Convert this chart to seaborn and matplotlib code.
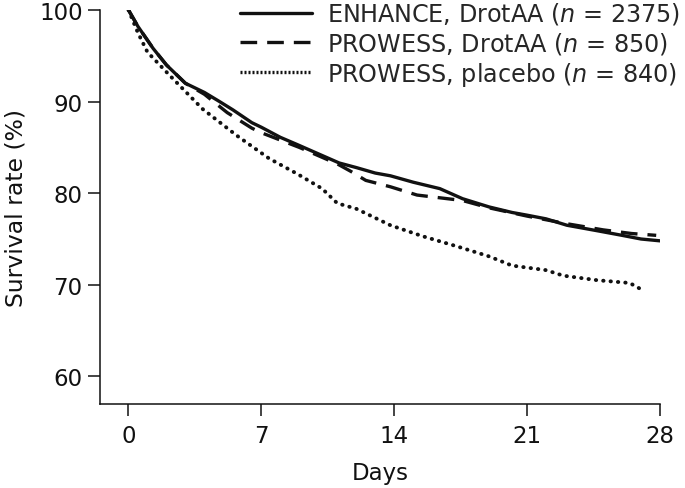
import numpy as np
import pandas as pd
import matplotlib
matplotlib.use('Agg')
import matplotlib.pyplot as plt
import seaborn as sns

###############################################################################
# Data
###############################################################################
ENH_DAYS = [0, 0.5, 1.3, 2, 3, 4, 4.8, 5.5, 6.5, 7, 8, 8.9, 10, 11.1, 12, 13,
            13.8, 15, 16.4, 17.6, 19, 20.2, 21, 22, 23.1, 24.7, 26, 27, 28]
ENH_SURV = [100, 98.2, 95.8, 94.0, 92.0, 91.0, 90.0, 89.1, 87.7, 87.2, 86.1,
            85.3, 84.3, 83.3, 82.8, 82.2, 81.9, 81.2, 80.5, 79.4, 78.5, 77.9,
            77.6, 77.2, 76.5, 75.9, 75.4, 75.0, 74.8]
PRO_DAYS = [0, 0.5, 1.3, 2, 3, 4, 5.2, 6.5, 7, 8, 9, 10, 11, 11.7, 12.5, 13.8,
            15.2, 16.8, 17.6, 19, 21, 23, 25, 26.5, 27.8]
PRO_SURV = [100, 98.2, 95.8, 94.0, 92.0, 90.8, 88.8, 87.1, 86.6, 85.8, 85.0,
            84.1, 83.2, 82.4, 81.4, 80.7, 79.8, 79.4, 79.2, 78.4, 77.5, 76.7,
            76.0, 75.6, 75.4]
PLA_DAYS = [0, 0.5, 1.0, 2.2, 3.9, 5.7, 7.4, 8.9, 10.2, 11.0, 12.0, 13.8, 15.5,
            17.3, 19.0, 20.2, 22.0, 22.9, 24.7, 26.4, 27.1]
PLA_SURV = [100, 97.5, 95.4, 92.8, 89.2, 86.3, 83.8, 82.1, 80.5, 78.9, 78.3,
            76.5, 75.3, 74.2, 73.1, 72.1, 71.6, 71.0, 70.5, 70.2, 69.4]
LABELS = ['ENHANCE, DrotAA ($n$ = 2375)',
          'PROWESS, DrotAA ($n$ = 850)',
          'PROWESS, placebo ($n$ = 840)']
X_TICKS = [0, 7, 14, 21, 28]
Y_TICKS = [60, 70, 80, 90, 100]

dta = pd.concat([
    pd.DataFrame({'Days': ENH_DAYS, 'Survival': ENH_SURV, 'Group': LABELS[0]}),
    pd.DataFrame({'Days': PRO_DAYS, 'Survival': PRO_SURV, 'Group': LABELS[1]}),
    pd.DataFrame({'Days': PLA_DAYS, 'Survival': PLA_SURV, 'Group': LABELS[2]}),
], ignore_index=True)

###############################################################################
# Style
###############################################################################
sns.set_style('ticks')
plt.rcParams['font.family'] = ['DejaVu Sans']
plt.rcParams['mathtext.fontset'] = 'custom'
plt.rcParams['mathtext.it'] = 'DejaVu Sans:italic'
plt.rcParams['mathtext.rm'] = 'DejaVu Sans'
(FS, FS_LEG) = (16.5, 17.2)
INK = '#111111'

###############################################################################
# Plot
###############################################################################
fig = plt.figure(figsize=(6.85, 4.89), dpi=100)
ax = fig.add_axes([0.146, 0.172, 0.8175, 0.8055])
sns.lineplot(
    data=dta, x='Days', y='Survival', hue='Group', style='Group',
    palette=[INK] * 3, dashes=['', (5, 3), (0.1, 1.8)],
    linewidth=2.4, sort=False, estimator=None, ax=ax
)
# round, heavier dots for the placebo curve
ax.lines[2].set_dash_capstyle('round')
ax.lines[2].set_linewidth(2.8)
ax.set_xlim(-1.5, 28)
ax.set_ylim(57, 100)
ax.set_xticks(X_TICKS)
ax.set_yticks(Y_TICKS)
ax.tick_params(direction='out', length=8.5, width=1.1, labelsize=FS,
               color=INK, labelcolor=INK)
ax.tick_params(axis='x', pad=6)
ax.tick_params(axis='y', pad=4)
for s in ('top', 'right'):
    ax.spines[s].set_visible(False)
for s in ('left', 'bottom'):
    ax.spines[s].set_linewidth(1.1)
    ax.spines[s].set_color(INK)
ax.set_xlabel('Days', fontsize=FS, labelpad=10, color=INK)
ax.set_ylabel('Survival rate (%)', fontsize=16.9, labelpad=8, color=INK)

leg = ax.legend(
    loc='upper left', bbox_to_anchor=(240 / 685, 0.997),
    bbox_transform=fig.transFigure, frameon=False, fontsize=FS_LEG,
    borderpad=0, borderaxespad=0, handlelength=3.0, handletextpad=0.63,
    labelspacing=0.15
)
legDash = ['', (5, 3), (0.6, 0.6)]
for (ln, dsh) in zip(leg.get_lines(), legDash):
    ln.set_linewidth(2.4)
    if dsh == (0.6, 0.6):
        ln.set_dashes(dsh)
        ln.set_dash_capstyle('butt')

plt.savefig('out.png', dpi=100, facecolor='w')
plt.close('all')
